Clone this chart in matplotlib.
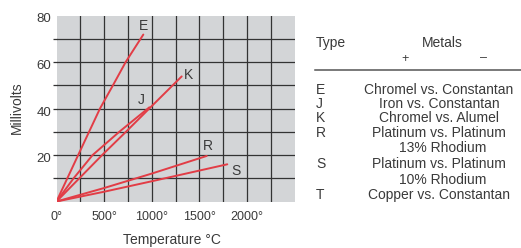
import numpy as np
import matplotlib
matplotlib.use("Agg")
import matplotlib.pyplot as plt
from matplotlib.ticker import FixedLocator
from matplotlib.transforms import ScaledTranslation

plt.rcParams['font.family'] = ['Liberation Sans', 'DejaVu Sans']

# thermocouple curves (deg C, mV)
temp_E = [0, 228, 457, 600, 727, 912]
mv_E = [0, 20.0, 40.0, 50.5, 60.0, 71.8]
temp_J = [0, 180, 380, 660, 975]
mv_J = [0, 10.0, 20.0, 30.0, 40.5]
temp_K = [0, 240, 480, 730, 975, 1315]
mv_K = [0, 10.0, 20.0, 30.0, 40.0, 53.8]
temp_R = [0, 500, 1000, 1578]
mv_R = [0, 5.8, 12.0, 19.6]
temp_S = [0, 500, 1000, 1794]
mv_S = [0, 4.2, 8.7, 16.0]

curve_names = ['E', 'J', 'K', 'R', 'S']
x_ticks = [0, 500, 1000, 1500, 2000]
y_ticks = [20, 40, 60, 80]

table_types = ['E', 'J', 'K', 'R', '', 'S', '', 'T']
table_metals = ['Chromel vs. Constantan', 'Iron vs. Constantan', 'Chromel vs. Alumel',
                'Platinum vs. Platinum', '13% Rhodium', 'Platinum vs. Platinum',
                '10% Rhodium', 'Copper vs. Constantan']

W, H = 521, 248
fig = plt.figure(figsize=(W / 100, H / 100), dpi=100)
ax = fig.add_axes([56.5 / W, 1 - 201.5 / H, 238 / W, 186 / H])
ax.set_facecolor('#d3d5d7')

red = '#e23d46'
txt = '#3a3a3a'
curves = {'E': (temp_E, mv_E), 'J': (temp_J, mv_J), 'K': (temp_K, mv_K),
          'R': (temp_R, mv_R), 'S': (temp_S, mv_S)}
label_off = {'E': (0, 6), 'J': (-6, 5), 'K': (5, 1), 'R': (1, 7), 'S': (6, -5)}
for name in curve_names:
    t, v = curves[name]
    ax.plot(t, v, color=red, lw=1.4, zorder=3, solid_capstyle='round', solid_joinstyle='round')
    ax.annotate(name, (t[-1], v[-1]), xytext=label_off[name], textcoords='offset points',
                ha='center', va='center', fontsize=10, color=txt)

ax.set_xlim(0, 2500)
ax.set_ylim(0, 80)
for s in ax.spines.values():
    s.set_visible(False)

ax.xaxis.remove_overlapping_locs = False
ax.yaxis.remove_overlapping_locs = False
ax.set_xticks(x_ticks)
ax.set_xticklabels([f'{t}°' for t in x_ticks])
ax.set_yticks(y_ticks)
ax.xaxis.set_minor_locator(FixedLocator(np.arange(250, 2500, 250)))
ax.yaxis.set_minor_locator(FixedLocator(np.arange(10, 80, 10)))
ax.grid(which='minor', color='#333333', lw=0.9)
ax.tick_params(which='major', length=0, labelsize=9, labelcolor=txt)
ax.tick_params(axis='x', which='major', pad=7)
ax.tick_params(axis='y', which='major', pad=4, labelsize=9.5)
ax.tick_params(axis='x', which='minor', length=0)
ax.tick_params(axis='y', which='minor', length=3, width=0.9, color='#333333', direction='out')
off = ScaledTranslation(0, -2.5 / 100, fig.dpi_scale_trans)
for lab in ax.get_yticklabels():
    lab.set_transform(lab.get_transform() + off)

fig.text(171.7 / W, 1 - 240 / H, 'Temperature °C', ha='center', va='center', fontsize=10, color=txt)
fig.text(17 / W, 1 - 108 / H, 'Millivolts', ha='center', va='center', rotation=90,
         fontsize=10, color=txt)

# table on the right
fig.text(316 / W, 1 - 46.7 / H, 'Type', ha='left', va='baseline', fontsize=10, color=txt)
fig.text(442.5 / W, 1 - 47.3 / H, 'Metals', ha='center', va='baseline', fontsize=10, color=txt)
fig.text(405 / W, 1 - 59 / H, '+', ha='center', va='center', fontsize=9, color=txt)
fig.text(484 / W, 1 - 58.5 / H, '–', ha='center', va='center', fontsize=9, color=txt)
fig.add_artist(plt.Line2D([315 / W, 1.0], [1 - 69.5 / H] * 2, color='#555555', lw=1.1))

baselines = [94, 107.8, 122, 137, 152.3, 168, 183.5, 199]
for typ, metal, yb in zip(table_types, table_metals, baselines):
    if typ:
        fig.text(316 / W, 1 - yb / H, typ, ha='left', va='baseline', fontsize=10, color=txt)
    xc = 442.5 if metal.endswith('Rhodium') else 439
    fig.text(xc / W, 1 - yb / H, metal, ha='center', va='baseline', fontsize=10, color=txt)

fig.savefig('out.png', dpi=100)
